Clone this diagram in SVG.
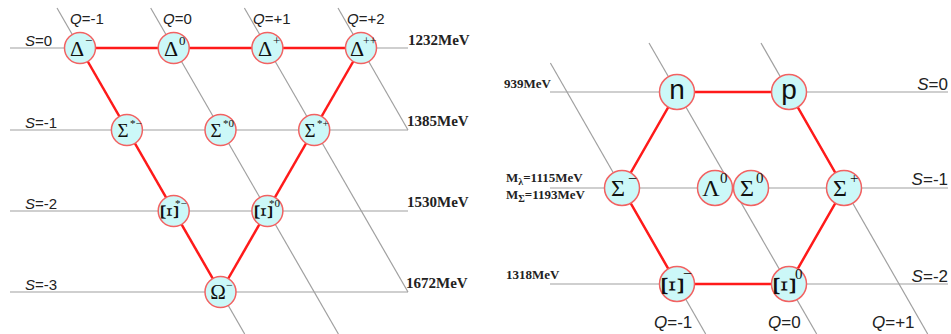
<svg xmlns="http://www.w3.org/2000/svg" width="951" height="334" viewBox="0 0 951 334">
<style>
.g{stroke:#a0a0a0;stroke-width:1.2;fill:none}
.r{stroke:#ff1a1a;stroke-width:2.5;fill:none}
.n1 circle{fill:#ccf8f8;stroke:#f26262;stroke-width:1.5}
.gr{font-family:"Liberation Serif","DejaVu Serif",serif;fill:#111;text-anchor:middle}
.sup{font-family:"Liberation Serif","DejaVu Serif",serif;fill:#111}
.lab{font-family:"Liberation Sans",Arial,sans-serif;fill:#222}
.mev{font-family:"Liberation Serif","Times New Roman",serif;font-weight:bold;fill:#222}
.i{font-style:italic}
.np{font-family:"Liberation Sans",Arial,sans-serif;fill:#111;text-anchor:middle;font-size:28px}
</style>
<g id="connectors">
  <line class="g" x1="10" y1="48" x2="408" y2="48"/>
  <line class="g" x1="10" y1="130" x2="408" y2="130"/>
  <line class="g" x1="10" y1="211" x2="408" y2="211"/>
  <line class="g" x1="10" y1="292" x2="408" y2="292"/>
  <line class="g" x1="57" y1="8" x2="244.7" y2="334"/>
  <line class="g" x1="150.7" y1="8" x2="338.4" y2="334"/>
  <line class="g" x1="244.4" y1="8" x2="408" y2="292"/>
  <line class="g" x1="338" y1="8" x2="408" y2="130"/>
  <line class="r" x1="80" y1="48" x2="361" y2="48"/>
  <line class="r" x1="80" y1="48" x2="220.5" y2="292"/>
  <line class="r" x1="361" y1="48" x2="220.5" y2="292"/>
  <line class="g" x1="550" y1="92" x2="948" y2="92"/>
  <line class="g" x1="550" y1="188" x2="948" y2="188"/>
  <line class="g" x1="550" y1="284" x2="948" y2="284"/>
  <line class="g" x1="550.4" y1="63" x2="705.7" y2="334"/>
  <line class="g" x1="649" y1="43" x2="816.7" y2="334"/>
  <line class="g" x1="761" y1="43" x2="927.7" y2="334"/>
  <polygon class="r" points="677,92 789,92 844,188 789,284 677,284 622,188"/>
</g>
<g id="labels-left">
  <text class="lab" font-size="15" x="70" y="24"><tspan class="i">Q</tspan>=-1</text>
  <text class="lab" font-size="15" x="163" y="24"><tspan class="i">Q</tspan>=0</text>
  <text class="lab" font-size="15" x="253" y="24"><tspan class="i">Q</tspan>=+1</text>
  <text class="lab" font-size="15" x="347" y="24"><tspan class="i">Q</tspan>=+2</text>
  <text class="lab" font-size="15" x="25" y="46"><tspan class="i">S</tspan>=0</text>
  <text class="lab" font-size="15" x="25" y="128"><tspan class="i">S</tspan>=-1</text>
  <text class="lab" font-size="15" x="25" y="209"><tspan class="i">S</tspan>=-2</text>
  <text class="lab" font-size="15" x="25" y="290"><tspan class="i">S</tspan>=-3</text>
  <text class="mev" font-size="15" x="408" y="45">1232MeV</text>
  <text class="mev" font-size="15" x="407" y="126">1385MeV</text>
  <text class="mev" font-size="15" x="407" y="207">1530MeV</text>
  <text class="mev" font-size="15" x="406" y="288">1672MeV</text>
</g>
<g id="labels-right">
  <text class="mev" font-size="13" x="504" y="88">939MeV</text>
  <text class="mev" font-size="13" x="506" y="182">M<tspan font-size="10" dy="3">λ</tspan><tspan dy="-3">=1115MeV</tspan></text>
  <text class="mev" font-size="13" x="506" y="199">M<tspan font-size="10" dy="3">Σ</tspan><tspan dy="-3">=1193MeV</tspan></text>
  <text class="mev" font-size="13" x="506" y="279">1318MeV</text>
  <text class="lab" font-size="17" x="948" y="90" text-anchor="end"><tspan class="i">S</tspan>=0</text>
  <text class="lab" font-size="17" x="948" y="185" text-anchor="end"><tspan class="i">S</tspan>=-1</text>
  <text class="lab" font-size="17" x="948" y="282" text-anchor="end"><tspan class="i">S</tspan>=-2</text>
  <text class="lab" font-size="17" x="654" y="328"><tspan class="i">Q</tspan>=-1</text>
  <text class="lab" font-size="17" x="768" y="328"><tspan class="i">Q</tspan>=0</text>
  <text class="lab" font-size="17" x="872" y="328"><tspan class="i">Q</tspan>=+1</text>
</g>
<g id="delta-minus" class="n1"><circle cx="80" cy="48" r="15.5"/><text class="gr" font-size="22" x="77" y="56">Δ</text><text class="sup" font-size="13" x="85" y="45">−</text></g>
<g id="delta-0" class="n1"><circle cx="173.7" cy="48" r="15.5"/><text class="gr" font-size="22" x="171" y="56">Δ</text><text class="sup" font-size="13" x="179" y="45">0</text></g>
<g id="delta-plus" class="n1"><circle cx="267.4" cy="48" r="15.5"/><text class="gr" font-size="22" x="265" y="56">Δ</text><text class="sup" font-size="13" x="273" y="45">+</text></g>
<g id="delta-plusplus" class="n1"><circle cx="361" cy="48" r="15.5"/><text class="gr" font-size="22" x="357" y="56">Δ</text><text class="sup" font-size="12" x="363" y="45">++</text></g>
<g id="sigma-star-minus" class="n1"><circle cx="126.9" cy="130" r="15.5"/><text class="gr" font-size="19" x="123" y="137">Σ</text><text class="sup" font-size="11" x="130" y="127">*−</text></g>
<g id="sigma-star-0" class="n1"><circle cx="220.5" cy="130" r="15.5"/><text class="gr" font-size="19" x="216" y="137">Σ</text><text class="sup" font-size="11" x="223" y="127">*0</text></g>
<g id="sigma-star-plus" class="n1"><circle cx="314.2" cy="130" r="15.5"/><text class="gr" font-size="19" x="310" y="137">Σ</text><text class="sup" font-size="11" x="317" y="127">*+</text></g>
<g id="xi-star-minus" class="n1"><circle cx="173.7" cy="211" r="15.5"/><text class="gr" font-size="25" x="169" y="212" dominant-baseline="central" transform="rotate(90 169 212)">Ξ</text><text class="sup" font-size="11" x="175" y="207">*−</text></g>
<g id="xi-star-0" class="n1"><circle cx="267.4" cy="211" r="15.5"/><text class="gr" font-size="25" x="263" y="212" dominant-baseline="central" transform="rotate(90 263 212)">Ξ</text><text class="sup" font-size="11" x="269" y="207">*0</text></g>
<g id="omega-minus" class="n1"><circle cx="220.5" cy="292" r="15.5"/><text class="gr" font-size="21" x="218" y="299">Ω</text><text class="sup" font-size="12" x="226" y="289">−</text></g>
<g id="neutron" class="n1"><circle cx="677" cy="92" r="17.5"/><text class="np" x="677" y="99">n</text></g>
<g id="proton" class="n1"><circle cx="789" cy="92" r="17.5"/><text class="np" x="789" y="99">p</text></g>
<g id="sigma-minus" class="n1"><circle cx="622" cy="188" r="17.5"/><text class="gr" font-size="24" x="618" y="196">Σ</text><text class="sup" font-size="16" x="628" y="184">−</text></g>
<g id="lambda-0" class="n1"><circle cx="715" cy="188" r="17.5"/><text class="gr" font-size="24" x="711" y="196">Λ</text><text class="sup" font-size="15" x="720" y="183">0</text></g>
<g id="sigma-0" class="n1"><circle cx="751" cy="188" r="17.5"/><text class="gr" font-size="24" x="747" y="196">Σ</text><text class="sup" font-size="15" x="756" y="183">0</text></g>
<g id="sigma-plus" class="n1"><circle cx="844" cy="188" r="17.5"/><text class="gr" font-size="24" x="840" y="196">Σ</text><text class="sup" font-size="15" x="850" y="183">+</text></g>
<g id="xi-minus" class="n1"><circle cx="677" cy="284" r="17.5"/><text class="gr" font-size="31" x="672" y="286" dominant-baseline="central" transform="rotate(90 672 286)">Ξ</text><text class="sup" font-size="16" x="683" y="279">−</text></g>
<g id="xi-0" class="n1"><circle cx="789" cy="284" r="17.5"/><text class="gr" font-size="31" x="784" y="286" dominant-baseline="central" transform="rotate(90 784 286)">Ξ</text><text class="sup" font-size="15" x="795" y="279">0</text></g>
</svg>
